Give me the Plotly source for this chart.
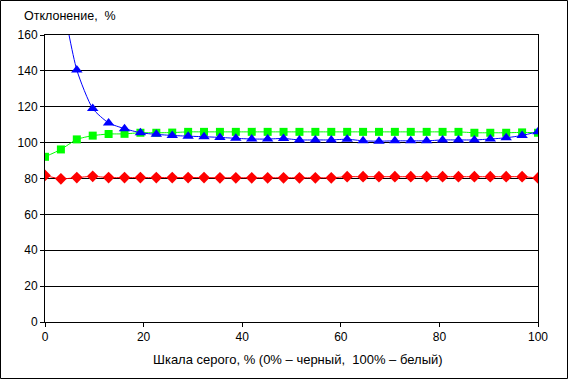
import plotly.graph_objects as go

x_vals = [i * 100 / 31 for i in range(32)]

blue_vals = [260, 185, 140.5, 119, 111, 107.8, 105.5, 104.6, 104, 103.6, 103.3,
             102.9, 102.4, 102, 102, 102.3, 101.5, 101.5, 101.5, 101.9, 101,
             100.8, 101, 101, 101, 101.5, 101.5, 101.5, 102, 102.7, 104, 106.1]
green_vals = [92.1, 96.2, 101.8, 103.9, 104.8, 104.9, 105.5, 105.5, 105.6, 106, 106,
              106, 106, 106, 106, 106, 106, 106, 106, 106, 106,
              106, 106, 106, 106, 106, 106, 105.5, 105.5, 105.5, 105.7, 105.5]
red_vals = [81.7, 79.8, 80.5, 81.2, 80.5, 80.5, 80.5, 80.5, 80.5, 80.5, 80.5,
            80.4, 80.4, 80.4, 80.4, 80.4, 80.4, 80.4, 80.4, 81, 81,
            81, 81, 81, 81, 81, 81, 81, 81, 81, 81, 80.3]

y_ticks = [0, 20, 40, 60, 80, 100, 120, 140, 160]
x_ticks = [0, 20, 40, 60, 80, 100]

y_title = "Отклонение,  %"
x_title = "Шкала серого, % (0% – черный,  100% – белый)"

FONT = "Liberation Sans, Arial, sans-serif"

fig = go.Figure()
fig.add_trace(go.Scatter(x=x_vals, y=red_vals, mode="lines+markers",
                         line=dict(color="#FF0000", width=1, shape="spline", smoothing=0.6),
                         marker=dict(symbol="diamond", size=9, color="#FF0000")))
fig.add_trace(go.Scatter(x=x_vals, y=green_vals, mode="lines+markers",
                         line=dict(color="#00FF00", width=1, shape="spline", smoothing=0.6),
                         marker=dict(symbol="square", size=8, color="#00FF00")))
fig.add_trace(go.Scatter(x=x_vals, y=blue_vals, mode="lines+markers",
                         line=dict(color="#0000FF", width=1, shape="spline", smoothing=0.6),
                         marker=dict(symbol="triangle-up", size=10, color="#0000FF")))

W, H = 568, 379
L, R, T, B = 45, 30, 35, 57
pw, ph = W - L - R, H - T - B

fig.update_layout(
    width=W, height=H,
    margin=dict(l=L, r=R, t=T, b=B, autoexpand=False),
    paper_bgcolor="white", plot_bgcolor="white",
    showlegend=False,
    font=dict(family=FONT, size=12, color="black"),
    xaxis=dict(range=[0, 100], tickvals=x_ticks, showgrid=False, zeroline=False,
               showline=True, linecolor="black", linewidth=1, mirror=True,
               ticks="outside", ticklen=4, tickcolor="black", automargin=False,
               tickfont=dict(family=FONT, size=12, color="black")),
    yaxis=dict(range=[0, 160], tickvals=y_ticks, showgrid=True, gridcolor="black", gridwidth=1,
               zeroline=False, showline=True, linecolor="black", linewidth=1, mirror=True,
               ticks="outside", ticklen=4, tickcolor="black", automargin=False,
               tickfont=dict(family=FONT, size=12, color="black")),
    annotations=[
        dict(text=y_title, xref="paper", yref="paper",
             x=(22 - L) / pw, y=(H - B - 16) / ph, xanchor="left", yanchor="middle",
             showarrow=False, font=dict(family=FONT, size=12.5, color="black")),
        dict(text=x_title, xref="paper", yref="paper",
             x=(298 - L) / pw, y=(H - B - 359) / ph, xanchor="center", yanchor="middle",
             showarrow=False, font=dict(family=FONT, size=13, color="black")),
    ],
    shapes=[dict(type="rect", xref="paper", yref="paper",
                 x0=(0.5 - L) / pw, x1=(W - 0.5 - L) / pw,
                 y0=(H - B - (H - 0.5)) / ph, y1=(H - B - 0.5) / ph,
                 line=dict(color="black", width=1), fillcolor="rgba(0,0,0,0)", layer="above")],
)

fig.write_html("out.html", config={"displayModeBar": False},
               post_script="document.body.style.margin='0';document.body.style.padding='0';document.body.style.overflow='hidden';")
